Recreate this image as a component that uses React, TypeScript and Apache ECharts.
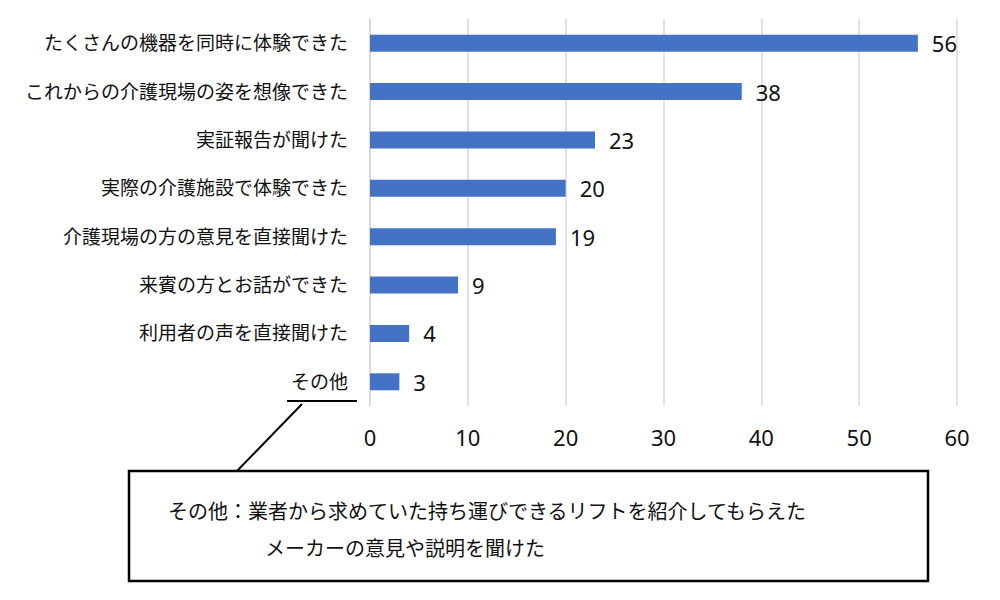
import React, { useEffect, useRef } from "react";
import * as echarts from "echarts";

const categories = [
  "たくさんの機器を同時に体験できた",
  "これからの介護現場の姿を想像できた",
  "実証報告が聞けた",
  "実際の介護施設で体験できた",
  "介護現場の方の意見を直接聞けた",
  "来賓の方とお話ができた",
  "利用者の声を直接聞けた",
  "その他",
];
const values = [56, 38, 23, 20, 19, 9, 4, 3];
const axisMax = 60;
const axisInterval = 10;
const noteLine1 = "その他：業者から求めていた持ち運びできるリフトを紹介してもらえた";
const noteLine2 = "メーカーの意見や説明を聞けた";

const FONT = "'Noto Sans', 'Noto Sans CJK JP', sans-serif";

export default function App() {
  const ref = useRef<HTMLDivElement>(null);
  useEffect(() => {
    if (!ref.current) return;
    const chart = echarts.init(ref.current, null, { renderer: "svg" });
    chart.setOption({
      animation: false,
      backgroundColor: "#ffffff",
      grid: { left: 370, right: 43, top: 19, bottom: 194, containLabel: false },
      xAxis: {
        type: "value",
        min: 0,
        max: axisMax,
        interval: axisInterval,
        axisLine: { show: false },
        axisTick: { show: false },
        splitLine: { show: true, lineStyle: { color: "#d9d9d9", width: 1.5 } },
        axisLabel: { color: "#111", fontSize: 22, fontFamily: FONT, margin: 20 },
      },
      yAxis: {
        type: "category",
        data: categories,
        inverse: true,
        axisLine: { show: true, lineStyle: { color: "#d9d9d9", width: 1.5 } },
        axisTick: { show: false },
        axisLabel: { color: "#111", fontSize: 19, fontFamily: FONT, margin: 22 },
      },
      series: [
        {
          type: "bar",
          data: values,
          barWidth: 17,
          itemStyle: { color: "#4472C4" },
          label: {
            show: true,
            position: "right",
            distance: 14,
            color: "#111",
            fontSize: 22,
            fontFamily: FONT,
          },
        },
      ],
      graphic: [
        {
          type: "line",
          shape: { x1: 287, y1: 401, x2: 357, y2: 401 },
          style: { stroke: "#000", lineWidth: 2 },
        },
        {
          type: "line",
          shape: { x1: 302, y1: 404, x2: 237, y2: 471 },
          style: { stroke: "#000", lineWidth: 2 },
        },
        {
          type: "rect",
          shape: { x: 129, y: 471, width: 799, height: 110 },
          style: { fill: "#fff", stroke: "#000", lineWidth: 2.5 },
        },
        {
          type: "text",
          x: 168,
          y: 511,
          style: {
            text: noteLine1,
            fontSize: 20,
            fontFamily: FONT,
            fill: "#111",
            verticalAlign: "middle",
            align: "left",
          },
        },
        {
          type: "text",
          x: 265,
          y: 548,
          style: {
            text: noteLine2,
            fontSize: 20,
            fontFamily: FONT,
            fill: "#111",
            verticalAlign: "middle",
            align: "left",
          },
        },
      ],
    });
    return () => chart.dispose();
  }, []);
  return (
    <div
      ref={ref}
      style={{ position: "fixed", left: 0, top: 0, width: 1000, height: 600, background: "#fff" }}
    />
  );
}
